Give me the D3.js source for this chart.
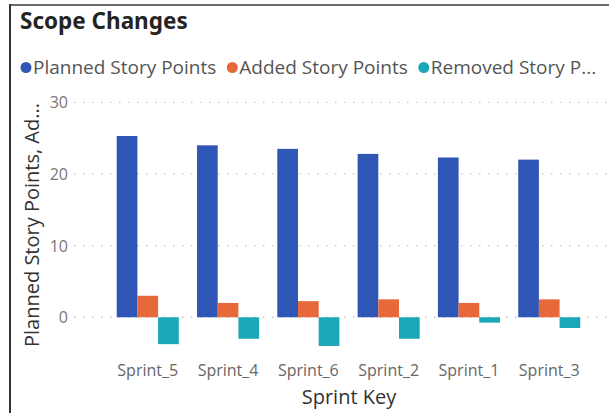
<!DOCTYPE html>
<html><head><meta charset="utf-8">
<script src="https://cdn.jsdelivr.net/npm/d3@7"></script>
<style>
html,body{margin:0;padding:0;background:#fff;}
svg{display:block;}
</style></head>
<body>
<svg id="chart" width="609" height="413"></svg>
<script>
const categories = ["Sprint_5","Sprint_4","Sprint_6","Sprint_2","Sprint_1","Sprint_3"];
const seriesNames = ["Planned Story Points","Added Story Points","Removed Story Points"];
const legendLabels = ["Planned Story Points","Added Story Points","Removed Story P..."];
const planned = [25.3, 24.0, 23.5, 22.8, 22.3, 22.0];
const added   = [3.0, 2.0, 2.25, 2.5, 2.0, 2.5];
const removed = [-3.75, -3.0, -4.0, -3.0, -0.75, -1.5];
const yTicks = [0, 10, 20, 30];
const colors = ["#3056B5", "#E7693A", "#1BA7B8"];
const title = "Scope Changes";
const xTitle = "Sprint Key";
const yTitle = "Planned Story Points, Ad...";

const seriesValues = [planned, added, removed];
const svg = d3.select("#chart");

// border (top & left edges)
svg.append("line").attr("x1",10).attr("x2",609).attr("y1",5).attr("y2",5).attr("stroke","#6a6a6a").attr("stroke-width",2);
svg.append("line").attr("x1",10).attr("x2",10).attr("y1",4).attr("y2",413).attr("stroke","#333").attr("stroke-width",2);

const font = "'Open Sans', 'Noto Sans', sans-serif";

svg.append("text").attr("x",20).attr("y",29).text(title)
  .attr("font-family","'Noto Sans', 'Open Sans', sans-serif").attr("font-weight","bold")
  .attr("font-size",22.5).attr("fill","#252423");

// legend
let lx = 26;
const legG = svg.append("g");
legendLabels.forEach((lab,i)=>{
  legG.append("circle").attr("cx",lx).attr("cy",67.5).attr("r",5.5).attr("fill",colors[i]);
  const t = legG.append("text").attr("x",lx+7).attr("y",74).text(lab)
    .attr("font-family",font).attr("font-size",19).attr("fill","#555");
  lx += 7 + t.node().getComputedTextLength() + 16;
});

const y = d3.scaleLinear().domain([-5,30]).range([353.1,102.3]);
const x = d3.scaleBand().domain(categories).range([107.6,589.4]).paddingInner(0.227).paddingOuter(0.1135);
const xs = d3.scaleBand().domain(seriesNames).range([0,x.bandwidth()]);

// gridlines
const grid = svg.append("g");
yTicks.forEach(v=>{
  grid.append("line").attr("x1",74).attr("x2",609).attr("y1",y(v)).attr("y2",y(v))
    .attr("stroke","#c8c8c8").attr("stroke-width",1.3).attr("stroke-dasharray","1.5,7.5");
});

// y axis
const yAxis = d3.axisLeft(y).tickValues(yTicks).tickSize(0).tickPadding(0);
const yg = svg.append("g").attr("transform","translate(68,0)").call(yAxis);
yg.select(".domain").remove();
yg.selectAll("text").attr("font-family",font).attr("font-size",16).attr("fill","#777").attr("dy","0.35em");

// bars
const groups = svg.append("g").selectAll("g").data(categories).join("g")
  .attr("transform",d=>`translate(${x(d)},0)`);
groups.selectAll("rect").data((d,ci)=>seriesNames.map((s,si)=>({s,si,v:seriesValues[si][ci]})))
  .join("rect")
  .attr("x",d=>xs(d.s)).attr("width",xs.bandwidth())
  .attr("y",d=>y(Math.max(0,d.v))).attr("height",d=>Math.abs(y(d.v)-y(0)))
  .attr("fill",d=>colors[d.si]);

// x axis
const xAxis = d3.axisBottom(x).tickSize(0).tickPadding(0);
const xg = svg.append("g").attr("transform","translate(0,365)").call(xAxis);
xg.select(".domain").remove();
xg.selectAll("text").attr("font-family",font).attr("font-size",16).attr("fill","#666").attr("dy","0.71em");

svg.append("text").attr("x",349).attr("y",404).attr("text-anchor","middle").text(xTitle)
  .attr("font-family",font).attr("font-size",20).attr("fill","#333");

svg.append("text").attr("transform","translate(39,225) rotate(-90)").attr("text-anchor","middle").text(yTitle)
  .attr("font-family",font).attr("font-size",20).attr("fill","#333");
</script>
</body></html>
